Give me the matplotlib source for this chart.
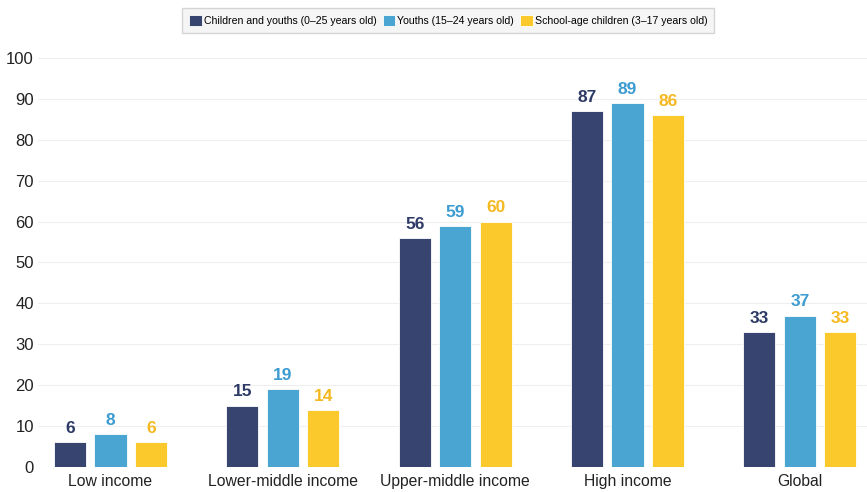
import numpy as np
import matplotlib.pyplot as plt

plt.rcParams['font.family'] = ['Liberation Sans', 'DejaVu Sans']

# datos
categories = ["Low income", "Lower-middle income", "Upper-middle income", "High income", "Global"]
series_names = ["Children and youths (0\u201325 years old)",
                "Youths (15\u201324 years old)",
                "School-age children (3\u201317 years old)"]
children_youths = [6, 15, 56, 87, 33]
youths = [8, 19, 59, 89, 37]
school_age = [6, 14, 60, 86, 33]

bar_colors = ["#36446F", "#4AA5D3", "#FBC92B"]
text_colors = ["#2D3A66", "#3C9BD0", "#F5B820"]

fig = plt.figure(figsize=(8.67, 4.92), dpi=100)
ax = fig.add_axes([0.044, 0.051, 0.956, 0.831])

x = np.arange(len(categories))
offset = 0.235
width = 0.186
all_series = [children_youths, youths, school_age]

for i, vals in enumerate(all_series):
    pos = x + (i - 1) * offset
    bars = ax.bar(pos, vals, width, color=bar_colors[i], label=series_names[i],
                  edgecolor="white", linewidth=0.6, zorder=3)
    for b, v in zip(bars, vals):
        ax.text(b.get_x() + b.get_width() / 2, v + 1.5, str(v), ha="center", va="bottom",
                fontsize=12.5, fontweight="bold", color=text_colors[i])

ax.set_xlim(-0.42, 4.39)
ax.set_ylim(0, 100)
ax.set_yticks(range(0, 101, 10))
ax.set_xticks(x)
ax.set_xticklabels(categories)
ax.tick_params(axis="both", length=0, colors="#222222")
ax.tick_params(axis="x", pad=5, labelsize=11.3)
ax.tick_params(axis="y", pad=3, labelsize=12)
ax.grid(axis="y", color="#efefef", linewidth=0.8, zorder=0)
for s in ax.spines.values():
    s.set_visible(False)

leg = fig.legend(loc="upper center", bbox_to_anchor=(0.517, 0.995), ncol=3, fontsize=7.6,
                 frameon=True, handlelength=1.2, handleheight=1.35, handletextpad=0.2,
                 columnspacing=0.55, borderpad=0.65, fancybox=False)
leg.get_frame().set_facecolor("#f3f3f3")
leg.get_frame().set_edgecolor("#cccccc")

plt.savefig("out.png", dpi=100)
